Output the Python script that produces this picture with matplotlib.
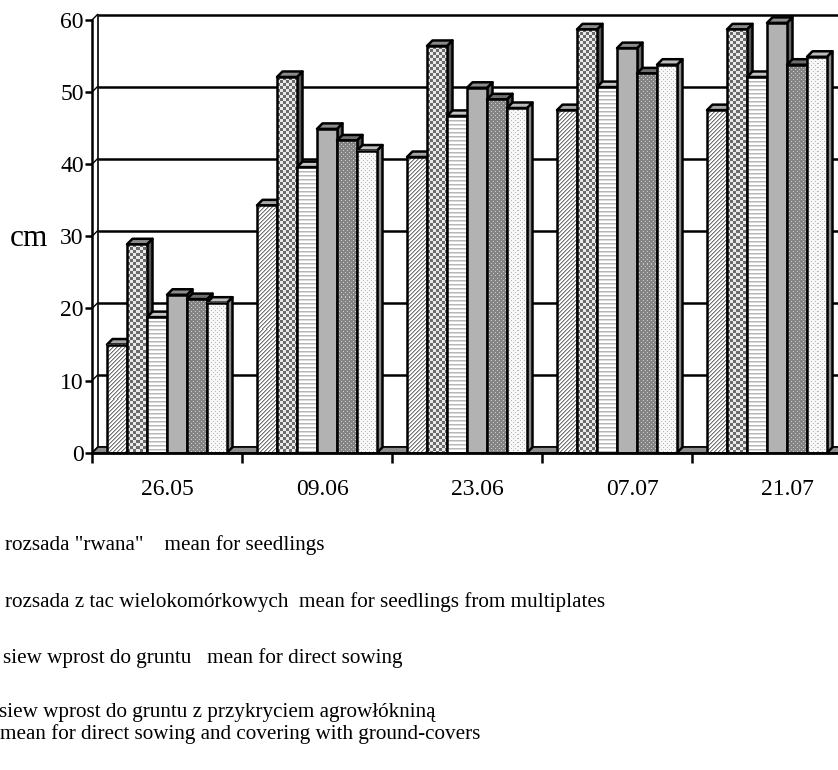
import numpy as np
import matplotlib
matplotlib.use("Agg")
import matplotlib.pyplot as plt
from matplotlib.patches import Polygon, Rectangle

# ---- data -------------------------------------------------------------
dates = ["26.05", "09.06", "23.06", "07.07", "21.07"]
hatched = [15.0, 34.3, 41.0, 47.5, 47.5]
checker = [28.9, 52.1, 56.4, 58.7, 58.7]
striped = [18.8, 39.6, 46.7, 50.7, 52.1]
plain = [21.9, 44.9, 50.6, 56.1, 59.6]
dark_dotted = [21.3, 43.3, 49.0, 52.6, 53.8]
light_dotted = [20.8, 41.9, 47.8, 53.8, 54.9]
y_ticks = [0, 10, 20, 30, 40, 50, 60]
y_label = "cm"
legend_lines = [
    'rozsada "rwana"    mean for seedlings',
    "rozsada z tac wielokomórkowych  mean for seedlings from multiplates",
    "siew wprost do gruntu   mean for direct sowing",
    "siew wprost do gruntu z przykryciem agrowłókniną",
    "mean for direct sowing and covering with ground-covers",
]

series = [hatched, checker, striped, plain, dark_dotted, light_dotted]
kinds = ["diag", "checker", "hlines", "solid", "darkdot", "lightdot"]
top_colors = ["#a6a6a6", "#8a8a8a", "#c4c4c4", "#8c8c8c", "#6e6e6e", "#bdbdbd"]
side_colors = ["#7a7a7a", "#555555", "#9a9a9a", "#666666", "#555555", "#8a8a8a"]

# ---- geometry ---------------------------------------------------------
W, H, DPI = 838, 770, 100
ax_left_px, ax_right_px = 92, 842
y0_px, y60_px = 452.7, 20.0
px_per_cat = (ax_right_px - ax_left_px) / len(dates)
px_per_unit = (y0_px - y60_px) / 60.0
dx = 5.5 / px_per_cat        # depth offset in category units
dy = 5.5 / px_per_unit       # depth offset in cm
bar_w = 20 / px_per_cat
gap = 0.1
ymax = 60

serif = "Liberation Serif"
lw = 1.8

fig = plt.figure(figsize=(W / DPI, H / DPI), dpi=DPI)
ax = fig.add_axes([ax_left_px / W, 1 - y0_px / H,
                   (ax_right_px - ax_left_px) / W, (y0_px - y60_px) / H])
xmax = len(dates)


def texture(kind, rows, cols):
    r, c = np.mgrid[0:rows, 0:cols]
    img = np.ones((rows, cols))
    if kind == "diag":
        m = (r + c) % 4
        img[m == 0] = 0.45
        img[m == 1] = 0.72
    elif kind == "checker":
        img[((r // 3) + (c // 3)) % 2 == 0] = 0.42
        img[((r // 3) + (c // 3)) % 2 == 1] = 0.92
    elif kind == "hlines":
        img[r % 4 == 0] = 0.72
        img[r % 4 == 1] = 0.86
    elif kind == "solid":
        img[:] = 0.70
    elif kind == "darkdot":
        img[:] = 0.52
        img[((r % 4 == 0) & (c % 4 == 0)) | ((r % 4 == 2) & (c % 4 == 2))] = 0.8
    elif kind == "lightdot":
        img[:] = 0.97
        img[((r % 4 == 0) & (c % 4 == 0)) | ((r % 4 == 2) & (c % 4 == 2))] = 0.72
    return np.dstack([img, img, img])


# back wall gridlines and left edge
for v in y_ticks:
    ax.plot([dx, xmax + dx], [v + dy, v + dy], color="black", lw=lw,
            zorder=1, clip_on=False, solid_capstyle="butt")
    ax.plot([0, dx], [v, v + dy], color="black", lw=1.0, zorder=1,
            clip_on=False)
ax.plot([dx, dx], [dy, ymax + dy], color="black", lw=1.2, zorder=1,
        clip_on=False)

# floor
ax.add_patch(Polygon([(0, 0), (xmax + dx, 0), (xmax + dx, dy), (dx, dy)],
                     closed=True, facecolor="#8c8c8c", edgecolor="black",
                     lw=1.2, zorder=2, clip_on=False))

# bars
for g in range(len(dates)):
    for k, vals in enumerate(series):
        h = vals[g]
        x0 = g + gap + k * bar_w
        x1 = x0 + bar_w
        z = 10 + 4 * k
        side = [(x1, 0), (x1 + dx, dy), (x1 + dx, h + dy), (x1, h)]
        ax.add_patch(Polygon(side, closed=True, facecolor=side_colors[k],
                             edgecolor="black", lw=lw, zorder=z,
                             clip_on=False, joinstyle="round"))
        top = [(x0, h), (x0 + dx, h + dy), (x1 + dx, h + dy), (x1, h)]
        ax.add_patch(Polygon(top, closed=True, facecolor=top_colors[k],
                             edgecolor="black", lw=lw, zorder=z + 1,
                             clip_on=False, joinstyle="round"))
        rows = max(int(round(h * px_per_unit)), 1)
        ax.imshow(texture(kinds[k], rows, 20), extent=(x0, x1, 0, h),
                  origin="upper", interpolation="nearest", aspect="auto",
                  zorder=z + 2)
        ax.add_patch(Rectangle((x0, 0), bar_w, h, facecolor="none",
                               edgecolor="black", lw=lw, zorder=z + 3,
                               joinstyle="round"))

ax.set_xlim(0, xmax)
ax.set_ylim(0, ymax)
ax.set_facecolor("none")
for s in ["top", "right"]:
    ax.spines[s].set_visible(False)
ax.spines["left"].set_linewidth(lw)
ax.spines["bottom"].set_linewidth(2.0)
ax.spines["bottom"].set_zorder(60)
ax.spines["left"].set_zorder(60)

ax.set_yticks(y_ticks)
ax.set_yticklabels([str(v) for v in y_ticks])
ax.tick_params(axis="y", direction="out", length=5, width=lw, pad=1,
               labelsize=17)
ax.set_xticks(range(xmax + 1))
ax.set_xticklabels([])
ax.tick_params(axis="x", which="major", direction="out", length=7, width=lw)
label_pos = [g + 0.5 + g * 5 / px_per_cat for g in range(len(dates))]
ax.set_xticks(label_pos, minor=True)
ax.set_xticklabels(dates, minor=True)
ax.tick_params(axis="x", which="minor", length=0, pad=19, labelsize=17)
for t in ax.get_xticklabels(minor=True) + ax.get_yticklabels():
    t.set_fontfamily(serif)

fig.text(10 / W, 1 - 238 / H, y_label, fontsize=22.5, family=serif,
         ha="left", va="center")

legend_pos = [(5, 545), (5, 602), (3, 658), (-1, 713), (0, 734)]
for (lx, ly), txt in zip(legend_pos, legend_lines):
    fig.text(lx / W, 1 - ly / H, txt, fontsize=15.2, family=serif,
             ha="left", va="center")

fig.savefig("out.png", dpi=DPI)
